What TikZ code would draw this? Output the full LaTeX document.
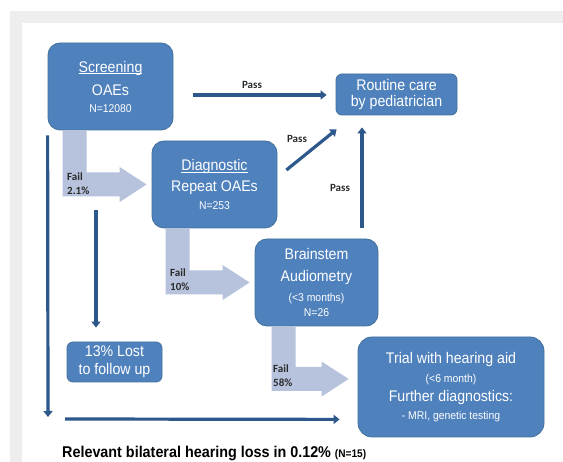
\documentclass[tikz,border=0pt]{standalone}
\usepackage{fontspec}
\setmainfont{Liberation Sans}[FakeStretch=0.92]
\newfontfamily\lblfont{Carlito}
\usetikzlibrary{arrows.meta,calc}
\definecolor{boxblue}{HTML}{4F81BD}
\definecolor{boxedge}{HTML}{41719C}
\definecolor{linkblue}{HTML}{2C588C}
\definecolor{failfill}{HTML}{B7C3DD}
\definecolor{bggray}{HTML}{EEEEEE}
\definecolor{lblgray}{HTML}{2A2A2A}
\newcommand\bigtxt{\fontsize{15.4}{17}\selectfont}
\newcommand\smtxt{\fontsize{11.3}{13}\selectfont}
\newcommand\ulinetxt[1]{\setbox0\hbox{#1}\rlap{\rule[-2.2pt]{\wd0}{0.8pt}}\box0}
\newcommand\failarrow[2]{\fill[failfill] let \p1=#1, \p2=#2 in
  (\x1,\y1) -- (\x1+24pt,\y1) -- (\x1+24pt,\y2+12pt) -- (\x2-27pt,\y2+12pt)
  -- (\x2-27pt,\y2+17.5pt) -- (\x2,\y2) -- (\x2-27pt,\y2-17.5pt)
  -- (\x2-27pt,\y2-12pt) -- (\x1,\y2-12pt) -- cycle;}
\begin{document}
\begin{tikzpicture}[x=1pt,y=-1pt,
  flowbox/.style={draw=boxedge, line width=0.8pt, fill=boxblue, text=white,
    rounded corners=#1, align=center, inner sep=0pt, font=\bigtxt},
  flowbox/.default=12pt,
  link/.style={draw=linkblue, line width=3.2pt, -{Triangle[length=6pt,width=9pt]}},
  lbl/.style={font=\lblfont\bfseries\fontsize{11}{14}\selectfont, text=lblgray, inner sep=0pt, align=left}]
\useasboundingbox (0,0) rectangle (563,462);
\fill[white] (0,0) rectangle (563,462);
\fill[bggray] (10,11) rectangle (563,23);
\fill[bggray] (10,23) rectangle (22,462);

% boxes
\node[flowbox, minimum width=125pt, minimum height=87pt] (scr) at (110.5,86.5)
  {\ulinetxt{Screening}\\[6pt] OAEs\\ {\smtxt N=12080}};
\node[flowbox, minimum width=125pt, minimum height=87pt] (diag) at (214.5,184.5)
  {\ulinetxt{Diagnostic}\\[4pt] Repeat OAEs\\[1pt] {\smtxt N=253}};
\node[flowbox=6pt, minimum width=121pt, minimum height=41pt] (rout) at (396.5,94.5)
  {Routine care\\[-1pt] by pediatrician};
\node[flowbox, minimum width=123pt, minimum height=87pt] (brain) at (316.5,282.5)
  {Brainstem\\[5pt] Audiometry\\[3pt] {\smtxt (<3 months)}\\[-2pt] {\smtxt N=26}};
\node[flowbox=14pt, minimum width=186pt, minimum height=100pt] (trial) at (451,387)
  {Trial with hearing aid\\[2.5pt] {\smtxt (<6 month)}\\[1.5pt] Further diagnostics:\\[1.5pt] {\smtxt - MRI, genetic testing}};
\node[flowbox=6pt, minimum width=95pt, minimum height=40pt] (lost) at (114.5,362)
  {13\% Lost\\[1pt] to follow up};

% fail arrows
\coordinate (f1s) at ($(scr.south west)+(15,0)$);
\coordinate (f1t) at ($(diag.west)+(-5,0)$);
\coordinate (f2s) at ($(diag.south west)+(14,0)$);
\coordinate (f2t) at ($(brain.west)+(-5,0)$);
\coordinate (f3s) at ($(brain.south west)+(17,0)$);
\coordinate (f3t) at ($(trial.west)+(-9,-8)$);
\failarrow{(f1s)}{(f1t)}
\failarrow{(f2s)}{(f2t)}
\failarrow{(f3s)}{(f3t)}
\node[lbl, anchor=west] (fl1) at (67,184) {Fail\\2.1\%};
\node[lbl, anchor=west] (fl2) at (170,279.5) {Fail\\10\%};
\node[lbl, anchor=west] (fl3) at (273,375.5) {Fail\\58\%};

% pass arrows
\draw[link] ($(scr.east)+(20,8.5)$) -- ($(rout.west)+(-9,0.5)$);
\draw[link] ($(diag.east)+(9,-14.5)$) -- ($(rout.south west)+(1,14)$);
\draw[link] ($(brain.north)+(45.5,-11)$) -- ($(rout.south)+(-34.5,12)$);
\node[lbl] (pl1) at (252,85) {Pass};
\node[lbl] (pl2) at (297,139) {Pass};
\node[lbl] (pl3) at (340,188) {Pass};

% lost and long arrows
\draw[link] ($(scr.south)+(-14.5,80)$) -- ($(lost.north)+(-18.5,-14)$);
\coordinate (lend) at (48,417);
\coordinate (bstart) at (65,419);
\draw[link] ($(scr.south west)+(0,5)$) -- (lend);
\draw[link] (bstart) -- ($(trial.south west)+(-18,-18)$);

\node[anchor=base west, inner sep=0pt, font=\bfseries\fontsize{15.6}{18}\selectfont] (concl) at (62,457.5)
  {Relevant bilateral hearing loss in 0.12\% {\fontsize{11}{13}\selectfont (N=15)}};
\end{tikzpicture}
\end{document}
